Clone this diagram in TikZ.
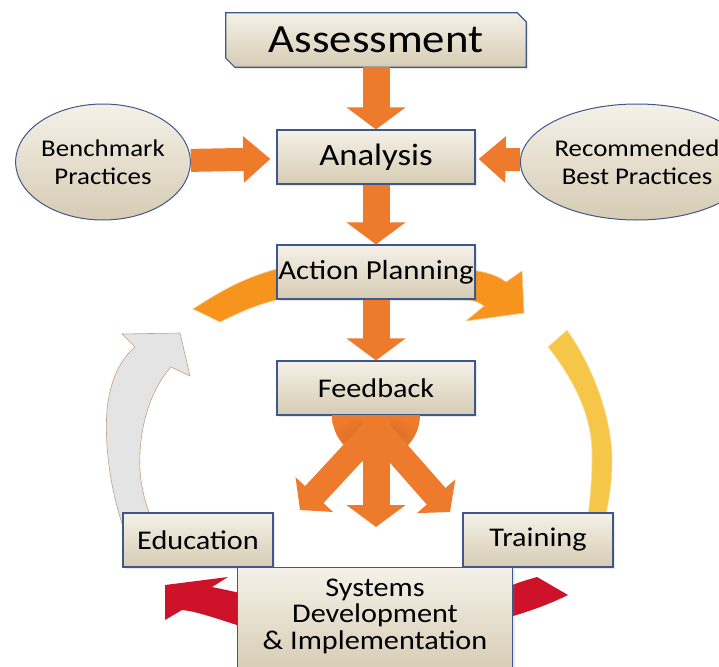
\documentclass[tikz,border=0pt]{standalone}
\usepackage{fontspec}
\setmainfont{Carlito}[FakeStretch=1.12]
\usepackage{xcolor}
\usetikzlibrary{arrows.meta,positioning,shapes.geometric,shadows,backgrounds}
\definecolor{boxtop}{RGB}{245,241,232}
\definecolor{boxbot}{RGB}{214,204,180}
\definecolor{boxline}{RGB}{62,88,138}
\definecolor{arrorange}{RGB}{238,122,44}
\definecolor{bandorange}{RGB}{246,148,30}
\definecolor{bandyellow}{RGB}{246,198,72}
\definecolor{bandgray}{RGB}{228,228,228}
\definecolor{bandred}{RGB}{206,18,42}

\begin{document}
\begin{tikzpicture}[x=1pt, y=-1pt,
    boxlook/.style={draw=boxline, line width=1.2pt, top color=boxtop, bottom color=boxbot,
        drop shadow={opacity=0.18, shadow xshift=2pt, shadow yshift=-2pt}},
    box/.style={boxlook, inner sep=0pt, minimum width=198pt, minimum height=54pt},
    oval/.style={ellipse, draw=boxline, line width=1pt, top color=boxtop, bottom color=boxbot,
        inner sep=0pt, minimum width=174pt, minimum height=116pt, align=center,
        font=\fontsize{24}{28}\selectfont},
    blockdown/.style={draw=arrorange, line width=27pt,
        -{Triangle[length=22pt, width=58pt]}},
    blockside/.style={draw=arrorange, line width=23pt,
        -{Triangle[length=27pt, width=45pt]}},
    fanarrow/.style={draw=arrorange, line width=25pt,
        -{Triangle[length=21pt, width=50pt]}}]
\useasboundingbox (0,0) rectangle (719,666);

\fill[bandgray, draw={rgb,255:red,196;green,160;blue,128}, line width=0.6pt]
  (180,333) -- (190,376) -- (171,367) .. controls (150,390) and (138,430) .. (140,470)
  .. controls (142,500) and (152,520) .. (160,540) -- (128,540)
  .. controls (112,500) and (104,450) .. (107,410) .. controls (110,380) and (120,360) .. (135,347)
  -- (122,334) -- cycle;
\fill[bandyellow, draw=bandyellow!50!white, line width=0.6pt]
  (548,347) -- (567,330) .. controls (595,370) and (612,420) .. (612,460)
  .. controls (612,495) and (605,520) .. (598,545) -- (583,545)
  .. controls (588,520) and (592,490) .. (592,455) .. controls (592,420) and (578,385) .. (548,347) -- cycle;
\fill[bandorange, draw=bandorange!50!white, line width=0.6pt]
  (193,309) .. controls (215,295) and (245,275) .. (290,266) -- (470,270)
  .. controls (488,272) and (498,276) .. (506,282) -- (522,271) -- (524,313) -- (466,321)
  -- (484,306) .. controls (478,302) .. (470,300) -- (285,298)
  .. controls (260,303) and (240,312) .. (220,322) -- cycle;
\fill[bandred]
  (165,585) -- (228,577) -- (212,587) .. controls (222,589) .. (240,593) -- (240,626)
  .. controls (215,618) and (195,611) .. (182,610) -- (165,620) -- cycle;
\fill[bandred]
  (510,586) .. controls (520,582) .. (537,577) -- (568,595)
  .. controls (550,604) and (530,611) .. (510,617) -- cycle;

\node[inner sep=0pt, minimum width=300pt, minimum height=54pt,
    font=\fontsize{40}{44}\selectfont] (assess) at (376,40) {Assessment};
\begin{scope}[on background layer]
\path[boxlook] (assess.north west) -- ([xshift=-9pt]assess.north east)
  -- ([yshift=-9pt]assess.north east) -- (assess.south east)
  -- ([xshift=9pt]assess.south west) -- ([yshift=9pt]assess.south west) -- cycle;
\end{scope}
\node[box, font=\fontsize{31}{34}\selectfont] (analysis) at (376,157) {Analysis};
\node[box, font=\fontsize{27.5}{30}\selectfont] (action) at (376,272) {Action Planning};
\node[box, font=\fontsize{27}{30}\selectfont] (feedback) at (376,388) {Feedback};
\node[box, minimum width=150pt, font=\fontsize{27}{30}\selectfont] (education) at (198,540) {Education};
\node[box, minimum width=150pt, font=\fontsize{27}{30}\selectfont] (training) at (538,540) {Training};
\node[box, minimum width=275pt, minimum height=106pt, anchor=north] (sysbox) at (375,567) {};
\node[align=center, font=\fontsize{27}{26.5}\selectfont, below=8pt of sysbox.north] (systems)
    {Systems\\Development\\\& Implementation};
\node[oval] (bench) at (103,162) {Benchmark\\Practices};
\node[oval] (recom) at (637,162) {Recommended\\Best Practices};

\draw[blockdown] (assess) -- (analysis);
\draw[blockdown] (analysis) -- (action);
\draw[blockdown] (action) -- (feedback);
\draw[blockside, shorten >=6pt] (bench) -- (analysis);
\draw[blockside, shorten >=3pt] (recom) -- (analysis);

\coordinate (fanc) at (376,415);
\coordinate (fanm) at (376,428);
\coordinate (tipL) at (300,510);
\coordinate (tipM) at (376,527);
\coordinate (tipR) at (450,512);
\shade[inner color=arrorange!85!black, outer color=arrorange]
  (fanc) ++(44,0) arc[start angle=0, end angle=180, radius=44] -- cycle;
\draw[fanarrow] (fanm) -- (tipL);
\draw[fanarrow] (fanm) -- (tipR);
\draw[blockdown] (fanc) -- (tipM);
\end{tikzpicture}
\end{document}
